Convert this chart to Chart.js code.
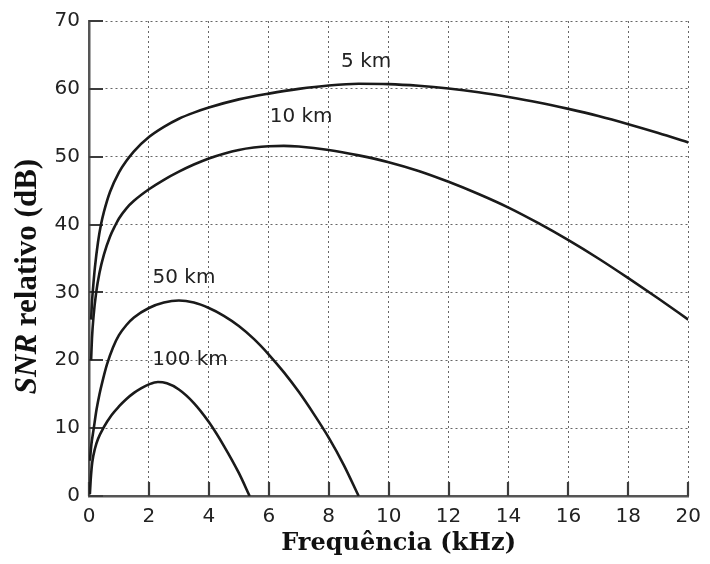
<!DOCTYPE html>
<html>
<head>
<meta charset="utf-8">
<script src="https://cdn.jsdelivr.net/npm/chart.js@4.4.1/dist/chart.umd.min.js"></script>
<style>
  html, body { margin: 0; padding: 0; background: #ffffff; }
  canvas { display: block; }
</style>
</head>
<body>
<canvas id="snrChart" width="710" height="564"></canvas>
<script>
// Frequency (kHz) and relative SNR (dB) for each transmission distance
const freq5   = [0.07, 0.1, 0.15, 0.2, 0.3, 0.4, 0.5, 0.7, 1, 1.25, 1.5, 2, 2.5, 3, 3.5, 4, 5, 6, 7, 8, 9, 10, 11, 12, 13, 14, 15, 16, 17, 18, 19, 20];
const snr5    = [26, 28.6, 31.4, 33.8, 37.4, 40, 41.9, 44.8, 47.7, 49.4, 50.8, 52.9, 54.4, 55.6, 56.5, 57.25, 58.45, 59.3, 60.0, 60.5, 60.75, 60.7, 60.45, 60.05, 59.5, 58.8, 58.0, 57.05, 56.0, 54.8, 53.5, 52.1];

const freq10  = [0.07, 0.1, 0.15, 0.24, 0.35, 0.5, 0.7, 0.88, 1, 1.25, 1.5, 2, 2.5, 3, 3.5, 4, 4.5, 5, 5.5, 6, 6.5, 7, 8, 9, 10, 11, 12, 13, 14, 15, 16, 17, 18, 19, 20];
const snr10   = [20, 23.3, 26.4, 30.0, 32.9, 35.6, 38.2, 39.9, 40.9, 42.4, 43.5, 45.2, 46.6, 47.8, 48.85, 49.75, 50.45, 51.0, 51.35, 51.55, 51.6, 51.5, 51.0, 50.2, 49.2, 47.9, 46.3, 44.5, 42.5, 40.2, 37.7, 35.0, 32.1, 29.1, 26.0];

const freq50  = [0.03, 0.08, 0.16, 0.25, 0.35, 0.45, 0.6, 0.8, 1, 1.25, 1.5, 2, 2.5, 3, 3.5, 4, 4.5, 5, 5.5, 6, 6.5, 7, 7.5, 8, 8.5, 9];
const snr50   = [5.2, 7.6, 10.0, 12.7, 15.0, 16.9, 19.4, 21.9, 23.7, 25.2, 26.3, 27.7, 28.5, 28.8, 28.5, 27.7, 26.55, 25.05, 23.15, 20.85, 18.25, 15.35, 12.1, 8.6, 4.6, 0];

const freq100 = [0.03, 0.06, 0.11, 0.2, 0.3, 0.49, 0.75, 1, 1.25, 1.5, 1.75, 2, 2.3, 2.6, 3, 3.5, 4, 4.5, 5, 5.36];
const snr100  = [0.3, 2.6, 5.0, 7.0, 8.4, 10.1, 11.9, 13.2, 14.3, 15.2, 15.9, 16.45, 16.8, 16.6, 15.7, 13.7, 10.9, 7.4, 3.4, 0];

const seriesNames = ['5 km', '10 km', '50 km', '100 km'];
const xTicks = [0, 2, 4, 6, 8, 10, 12, 14, 16, 18, 20];
const yTicks = [0, 10, 20, 30, 40, 50, 60, 70];
const xTitle = 'Frequência (kHz)';
const yTitleItalic = 'SNR';
const yTitleRest = ' relativo (dB)';

// where each distance name sits, in axis units (kHz, dB)
const nameAtX = [9.25, 7.08, 3.17, 3.37];
const nameAtY = [64.0, 55.9, 32.1, 20.0];

const toPoints = (xs, ys) => xs.map((x, i) => ({ x: x, y: ys[i] }));
const seriesData = [
  toPoints(freq5, snr5),
  toPoints(freq10, snr10),
  toPoints(freq50, snr50),
  toPoints(freq100, snr100)
];

const SANS = '"DejaVu Sans", sans-serif';
const SERIF = '"DejaVu Serif", serif';
const TIMES = '"Liberation Serif", serif';

// short tick marks pointing into the plot area
const innerTicks = {
  id: 'innerTicks',
  beforeDatasetsDraw(chart) {
    const { ctx, chartArea: a, scales: { x, y } } = chart;
    ctx.save();
    ctx.strokeStyle = '#3c3c3c';
    ctx.lineWidth = 2.2;
    ctx.beginPath();
    yTicks.forEach(v => {
      const py = Math.round(y.getPixelForValue(v));
      ctx.moveTo(a.left, py);
      ctx.lineTo(a.left + 14, py);
    });
    xTicks.forEach(v => {
      const px = Math.round(x.getPixelForValue(v));
      ctx.moveTo(px, a.bottom);
      ctx.lineTo(px, a.bottom - 14);
    });
    ctx.stroke();
    ctx.restore();
  }
};

// distance names written next to their curves
const curveNames = {
  id: 'curveNames',
  afterDatasetsDraw(chart) {
    const { ctx, scales: { x, y } } = chart;
    ctx.save();
    ctx.font = '20px ' + SANS;
    ctx.fillStyle = '#222222';
    ctx.textAlign = 'center';
    ctx.textBaseline = 'middle';
    seriesNames.forEach((name, i) => {
      ctx.fillText(name, x.getPixelForValue(nameAtX[i]), y.getPixelForValue(nameAtY[i]));
    });
    ctx.restore();
  }
};

// axis titles: horizontal one under the ticks, vertical one with the italic "SNR"
const axisTitles = {
  id: 'axisTitles',
  afterDraw(chart) {
    const { ctx, chartArea: a } = chart;
    ctx.save();
    ctx.fillStyle = '#111111';
    ctx.textBaseline = 'alphabetic';

    ctx.font = 'bold 24px ' + SERIF;
    ctx.textAlign = 'center';
    ctx.fillText(xTitle, (a.left + a.right) / 2 + 10, 550);

    const italic = 'italic bold 31px ' + TIMES;
    const upright = 'bold 31px ' + TIMES;
    ctx.translate(36, (a.top + a.bottom) / 2 + 18);
    ctx.rotate(-Math.PI / 2);
    ctx.font = italic;
    const w1 = ctx.measureText(yTitleItalic).width;
    ctx.font = upright;
    const w2 = ctx.measureText(yTitleRest).width;
    const start = -(w1 + w2) / 2;
    ctx.textAlign = 'left';
    ctx.font = italic;
    ctx.fillText(yTitleItalic, start, 0);
    ctx.font = upright;
    ctx.fillText(yTitleRest, start + w1, 0);
    ctx.restore();
  }
};

const whiteBackground = {
  id: 'whiteBackground',
  beforeDraw(chart) {
    const { ctx, width, height } = chart;
    ctx.save();
    ctx.fillStyle = '#ffffff';
    ctx.fillRect(0, 0, width, height);
    ctx.restore();
  }
};

new Chart(document.getElementById('snrChart'), {
  type: 'line',
  data: {
    datasets: seriesData.map((pts, i) => ({
      label: seriesNames[i],
      data: pts,
      borderColor: '#1a1a1a',
      borderWidth: 2.6,
      pointRadius: 0,
      fill: false,
      cubicInterpolationMode: 'monotone'
    }))
  },
  options: {
    responsive: false,
    animation: false,
    events: [],
    layout: { padding: { top: 18, right: 13, left: 0, bottom: 0 } },
    plugins: {
      legend: { display: false },
      tooltip: { enabled: false },
      title: { display: false }
    },
    scales: {
      x: {
        type: 'linear',
        min: 0,
        max: 20,
        afterBuildTicks: s => { s.ticks = xTicks.map(v => ({ value: v })); },
        afterFit: s => { s.height = 68; },
        grid: { color: '#666666', lineWidth: 1, drawTicks: false },
        border: { display: true, color: '#555555', width: 2.5, dash: [2, 3] },
        ticks: {
          font: { family: SANS, size: 20 },
          color: '#222222',
          padding: 9,
          maxRotation: 0
        }
      },
      y: {
        type: 'linear',
        min: 0,
        max: 70,
        afterBuildTicks: s => { s.ticks = yTicks.map(v => ({ value: v })); },
        afterFit: s => { s.width = 89; },
        grid: { color: '#666666', lineWidth: 1, drawTicks: false },
        border: { display: true, color: '#555555', width: 2.5, dash: [2, 3] },
        ticks: {
          font: { family: SANS, size: 20 },
          color: '#222222',
          padding: 9
        }
      }
    }
  },
  plugins: [whiteBackground, innerTicks, curveNames, axisTitles]
});
</script>
</body>
</html>
